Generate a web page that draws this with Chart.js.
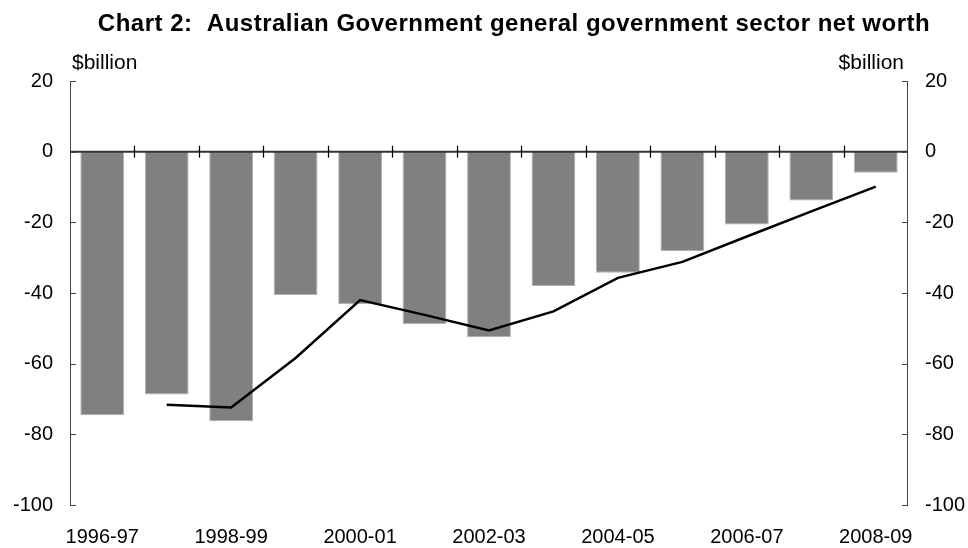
<!DOCTYPE html>
<html>
<head>
<meta charset="utf-8">
<script src="https://cdn.jsdelivr.net/npm/chart.js@4"></script>
<style>
body{margin:0;background:#fff}
#wrap{width:968px;height:548px}
</style>
</head>
<body>
<div id="wrap"><canvas id="c" width="968" height="548"></canvas></div>
<script>
const years=["1996-97","1997-98","1998-99","1999-00","2000-01","2001-02","2002-03","2003-04","2004-05","2005-06","2006-07","2007-08","2008-09"]
// net worth bars ($billion)
const netWorth=[-74.6,-68.7,-76.3,-40.6,-43.2,-48.8,-52.5,-38.0,-34.3,-28.1,-20.6,-13.8,-6.0]
// line series, no value for first year
const lineVals=[null,-71.6,-72.4,-58.4,-42.0,-46.2,-50.6,-45.2,-35.7,-31.2,-24.0,-16.9,-9.9]
const yTicks=[20,0,-20,-40,-60,-80,-100]

const FONT='"Liberation Sans", Arial, sans-serif'

// title, unit labels, axes and small tick marks
const decor={
id:"decor",
afterDatasetsDraw(chart){
const ctx=chart.ctx
const a=chart.chartArea
const x=chart.scales.x
const y=chart.scales.y
ctx.save()
ctx.fillStyle="#000"
ctx.font="bold 24px "+FONT
ctx.letterSpacing="0.5px"
ctx.textAlign="center"
ctx.textBaseline="alphabetic"
ctx.fillText("Chart 2:  Australian Government general government sector net worth",514,31)
ctx.letterSpacing="0px"
ctx.font="21px "+FONT
ctx.textAlign="left"
ctx.fillText("$billion",72,69)
ctx.textAlign="right"
ctx.fillText("$billion",904,69)

// zero line
let y0=y.getPixelForValue(0)
ctx.strokeStyle="#333"
ctx.lineWidth=2
ctx.beginPath()
ctx.moveTo(a.left,y0)
ctx.lineTo(a.right,y0)
ctx.stroke()

// category tick marks across zero line
ctx.strokeStyle="#000"
ctx.lineWidth=1.2
for(let i=1;i<years.length;i++){
let px=Math.round((x.getPixelForValue(i-1)+x.getPixelForValue(i))/2)+0.5
ctx.beginPath()
ctx.moveTo(px,y0-6)
ctx.lineTo(px,y0+6)
ctx.stroke()
}

// side axes
ctx.strokeStyle="#444"
ctx.lineWidth=1
ctx.beginPath()
ctx.moveTo(a.left+0.5,a.top)
ctx.lineTo(a.left+0.5,a.bottom)
ctx.moveTo(a.right-0.5,a.top)
ctx.lineTo(a.right-0.5,a.bottom)
ctx.stroke()
ctx.beginPath()
yTicks.forEach(v=>{
let py=Math.round(y.getPixelForValue(v))+0.5
ctx.moveTo(a.left,py)
ctx.lineTo(a.left+6,py)
ctx.moveTo(a.right,py)
ctx.lineTo(a.right-6,py)
})
ctx.stroke()
ctx.restore()
}
}

new Chart(document.getElementById("c"),{
data:{
labels:years,
datasets:[
{
type:"line",
label:"Line",
data:lineVals,
borderColor:"#000",
borderWidth:2.5,
pointRadius:0,
tension:0,
order:0
},
{
type:"bar",
label:"Net worth",
data:netWorth,
backgroundColor:"#808080",
borderColor:"#b0b0b0",
borderWidth:{left:1,right:1,bottom:1,top:0},
barPercentage:0.68,
categoryPercentage:1,
order:1
}
]
},
options:{
responsive:false,
animation:false,
layout:{padding:{top:81,left:0,right:0,bottom:0}},
plugins:{
legend:{display:false},
tooltip:{enabled:false}
},
scales:{
x:{
grid:{display:false,drawTicks:false},
border:{display:false},
ticks:{
autoSkip:false,
maxRotation:0,
padding:20,
color:"#000",
font:{family:FONT,size:20},
callback:function(v,i){return i%2===0?years[i]:""}
},
afterFit:function(s){s.height=43}
},
y:{
position:"left",
min:-100,
max:20,
grid:{display:false,drawTicks:false},
border:{display:false},
ticks:{stepSize:20,padding:17,color:"#000",font:{family:FONT,size:20}},
afterFit:function(s){s.width=70}
},
y2:{
position:"right",
min:-100,
max:20,
grid:{display:false,drawTicks:false},
border:{display:false},
ticks:{stepSize:20,padding:17,color:"#000",font:{family:FONT,size:20}},
afterFit:function(s){s.width=60}
}
}
},
plugins:[decor]
})
</script>
</body>
</html>
